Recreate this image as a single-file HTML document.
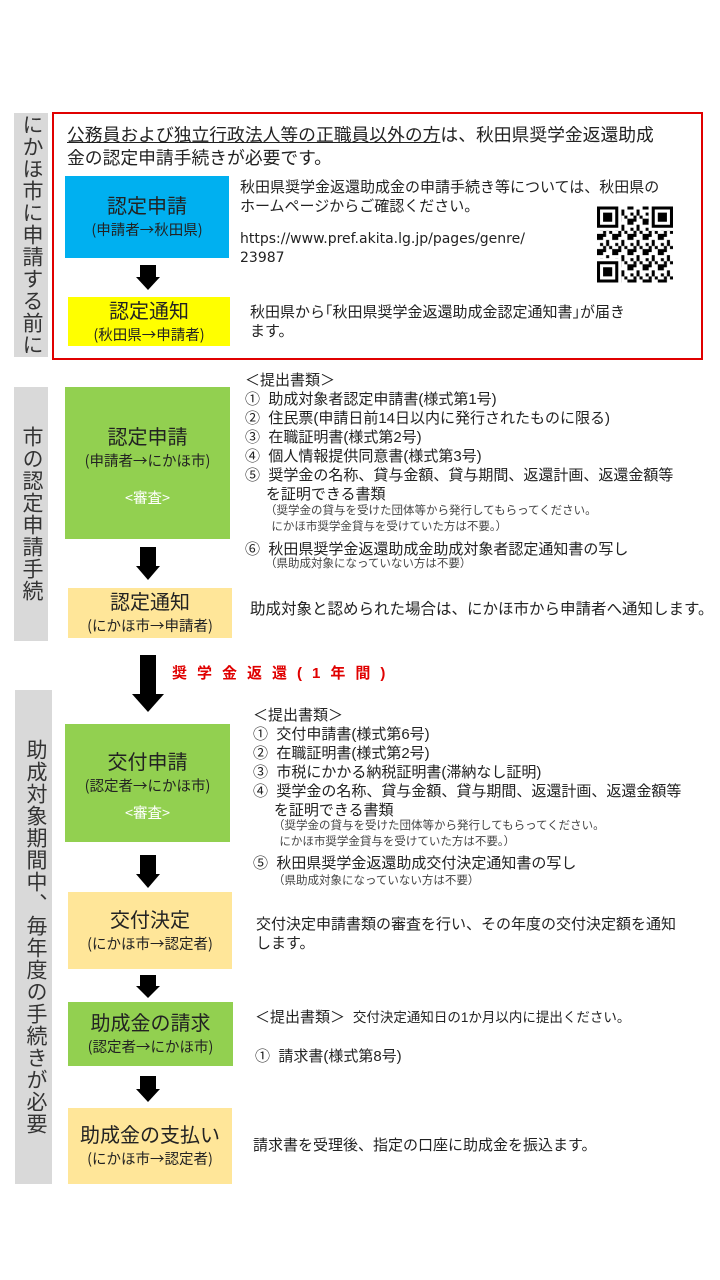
<!DOCTYPE html>
<html><head><meta charset="utf-8"><style>
body{margin:0;width:720px;height:1280px;background:#fff;position:relative;font-family:"Liberation Sans","Noto Sans CJK JP",sans-serif;color:#222;overflow:hidden}
.a{position:absolute}
.side{position:absolute;background:#d9d9d9;writing-mode:vertical-rl;font-size:21px;line-height:34px;text-align:center;color:#333;letter-spacing:1px}
.box{position:absolute;display:flex;flex-direction:column;align-items:center;justify-content:center;text-align:center;color:#222}
.t{font-size:20px;line-height:25px}
.s{font-size:14.5px;line-height:19px;font-family:"Noto Sans CJK JP",sans-serif}
.txt{position:absolute;font-size:15px;line-height:19px;white-space:nowrap}
.sm{font-size:11.5px;line-height:16px;color:#444}
.arr{position:absolute;width:0;height:0}
</style></head><body>

<div class="side" style="left:14px;top:113px;width:34px;height:244px;">にかほ市に申請する前に</div>
<div class="side" style="left:14px;top:387px;width:34px;height:254px;padding-top:0">市の認定申請手続</div>
<div class="side" style="left:15px;top:690px;width:37px;height:494px;">助成対象期間中、毎年度の手続きが必要</div>

<div class="a" style="left:52px;top:112px;width:647px;height:244px;border:2px solid #e00000;"></div>
<div class="txt" style="left:67px;top:124px;font-size:17.8px;line-height:23px;"><u>公務員および独立行政法人等の正職員以外の方</u>は、秋田県奨学金返還助成<br>金の認定申請手続きが必要です。</div>

<div class="box" style="left:65px;top:176px;width:164px;height:82px;background:#00b0f0;"><div class="t">認定申請</div><div class="s">(申請者→秋田県)</div></div>
<div class="txt" style="left:240px;top:178px;">秋田県奨学金返還助成金の申請手続き等については、秋田県の<br>ホームページからご確認ください。</div>
<div class="txt" style="left:240px;top:230px;font-family:'DejaVu Sans',sans-serif;font-size:14px;">https://www.pref.akita.lg.jp/pages/genre/<br>23987</div>
<svg class="a" style="left:597px;top:206px" width="76" height="77" viewBox="0 0 25 25">
<defs><pattern id="p" width="5" height="5" patternUnits="userSpaceOnUse"><rect x="0" y="0" width="2" height="1"/><rect x="3" y="1" width="1" height="2"/><rect x="1" y="2" width="1" height="1"/><rect x="0" y="4" width="3" height="1"/><rect x="4" y="3" width="1" height="1"/><rect x="2" y="3" width="1" height="1"/></pattern></defs>
<rect x="0" y="0" width="25" height="25" fill="url(#p)"/>
<g><rect x="0" y="0" width="8" height="8" fill="#fff"/><rect x="17" y="0" width="8" height="8" fill="#fff"/><rect x="0" y="17" width="8" height="8" fill="#fff"/>
<path d="M0 0h7v7h-7zM1 1v5h5v-5zM2 2h3v3h-3z" fill="#000" fill-rule="evenodd"/>
<path d="M18 0h7v7h-7zM19 1v5h5v-5zM20 2h3v3h-3z" fill="#000" fill-rule="evenodd"/>
<path d="M0 18h7v7h-7zM1 19v5h5v-5zM2 20h3v3h-3z" fill="#000" fill-rule="evenodd"/></g>
</svg>
<div class="a" style="left:140px;top:265px;width:16px;height:12px;background:#000"></div>
<div class="arr" style="left:136px;top:277px;border-left:12px solid transparent;border-right:12px solid transparent;border-top:13px solid #000"></div>
<div class="box" style="left:68px;top:297px;width:162px;height:49px;background:#ffff00;"><div class="t">認定通知</div><div class="s">(秋田県→申請者)</div></div>
<div class="txt" style="left:250px;top:303px;">秋田県から｢秋田県奨学金返還助成金認定通知書｣が届き<br>ます。</div>

<div class="box" style="left:65px;top:387px;width:165px;height:152px;background:#92d050;"><div class="t" style="margin-top:6px">認定申請</div><div class="s">(申請者→にかほ市)</div><div class="s" style="color:#fff;margin-top:18px">&lt;審査&gt;</div></div>
<div class="txt" style="left:245px;top:371px;">＜提出書類＞</div>
<div class="txt" style="left:245px;top:390px;">①&nbsp; 助成対象者認定申請書(様式第1号)<br>②&nbsp; 住民票(申請日前14日以内に発行されたものに限る)<br>③&nbsp; 在職証明書(様式第2号)<br>④&nbsp; 個人情報提供同意書(様式第3号)<br>⑤&nbsp; 奨学金の名称、貸与金額、貸与期間、返還計画、返還金額等<br>&nbsp; &nbsp; &nbsp;を証明できる書類</div>
<div class="txt sm" style="left:265px;top:503px;">（奨学金の貸与を受けた団体等から発行してもらってください。<br>&nbsp; にかほ市奨学金貸与を受けていた方は不要。）</div>
<div class="txt" style="left:245px;top:540px;">⑥&nbsp; 秋田県奨学金返還助成金助成対象者認定通知書の写し</div>
<div class="txt sm" style="left:265px;top:556px;">（県助成対象になっていない方は不要）</div>
<div class="a" style="left:140px;top:547px;width:16px;height:20px;background:#000"></div>
<div class="arr" style="left:136px;top:566px;border-left:12px solid transparent;border-right:12px solid transparent;border-top:14px solid #000"></div>
<div class="box" style="left:68px;top:588px;width:164px;height:50px;background:#ffe699;"><div class="t">認定通知</div><div class="s">(にかほ市→申請者)</div></div>
<div class="txt" style="left:250px;top:600px;font-size:15.5px;">助成対象と認められた場合は、にかほ市から申請者へ通知します。</div>

<div class="a" style="left:140px;top:655px;width:16px;height:40px;background:#000"></div>
<div class="arr" style="left:132px;top:694px;border-left:16px solid transparent;border-right:16px solid transparent;border-top:18px solid #000"></div>
<div class="txt" style="left:172px;top:664px;color:#e00000;font-weight:bold;font-size:15px;letter-spacing:10px;">奨学金返還(1年間)</div>

<div class="box" style="left:65px;top:724px;width:165px;height:118px;background:#92d050;"><div class="t" style="margin-top:6px">交付申請</div><div class="s">(認定者→にかほ市)</div><div class="s" style="color:#fff;margin-top:8px">&lt;審査&gt;</div></div>
<div class="txt" style="left:253px;top:706px;">＜提出書類＞</div>
<div class="txt" style="left:253px;top:725px;">①&nbsp; 交付申請書(様式第6号)<br>②&nbsp; 在職証明書(様式第2号)<br>③&nbsp; 市税にかかる納税証明書(滞納なし証明)<br>④&nbsp; 奨学金の名称、貸与金額、貸与期間、返還計画、返還金額等<br>&nbsp; &nbsp; &nbsp;を証明できる書類</div>
<div class="txt sm" style="left:273px;top:818px;">（奨学金の貸与を受けた団体等から発行してもらってください。<br>&nbsp; にかほ市奨学金貸与を受けていた方は不要。）</div>
<div class="txt" style="left:253px;top:854px;">⑤&nbsp; 秋田県奨学金返還助成交付決定通知書の写し</div>
<div class="txt sm" style="left:273px;top:873px;">（県助成対象になっていない方は不要）</div>
<div class="a" style="left:140px;top:855px;width:16px;height:20px;background:#000"></div>
<div class="arr" style="left:136px;top:874px;border-left:12px solid transparent;border-right:12px solid transparent;border-top:14px solid #000"></div>
<div class="box" style="left:68px;top:892px;width:164px;height:77px;background:#ffe699;"><div class="t">交付決定</div><div class="s">(にかほ市→認定者)</div></div>
<div class="txt" style="left:256px;top:915px;">交付決定申請書類の審査を行い、その年度の交付決定額を通知<br>します。</div>

<div class="a" style="left:140px;top:975px;width:16px;height:12px;background:#000"></div>
<div class="arr" style="left:136px;top:986px;border-left:12px solid transparent;border-right:12px solid transparent;border-top:12px solid #000"></div>
<div class="box" style="left:68px;top:1002px;width:165px;height:64px;background:#92d050;"><div class="t">助成金の請求</div><div class="s">(認定者→にかほ市)</div></div>
<div class="txt" style="left:255px;top:1008px;">＜提出書類＞ <span style="font-size:13.5px">&nbsp;交付決定通知日の1か月以内に提出ください。</span></div>
<div class="txt" style="left:255px;top:1047px;">①&nbsp; 請求書(様式第8号)</div>
<div class="a" style="left:140px;top:1076px;width:16px;height:14px;background:#000"></div>
<div class="arr" style="left:136px;top:1089px;border-left:12px solid transparent;border-right:12px solid transparent;border-top:13px solid #000"></div>
<div class="box" style="left:68px;top:1108px;width:164px;height:76px;background:#ffe699;"><div class="t">助成金の支払い</div><div class="s">(にかほ市→認定者)</div></div>
<div class="txt" style="left:253px;top:1136px;">請求書を受理後、指定の口座に助成金を振込ます。</div>
</body></html>
